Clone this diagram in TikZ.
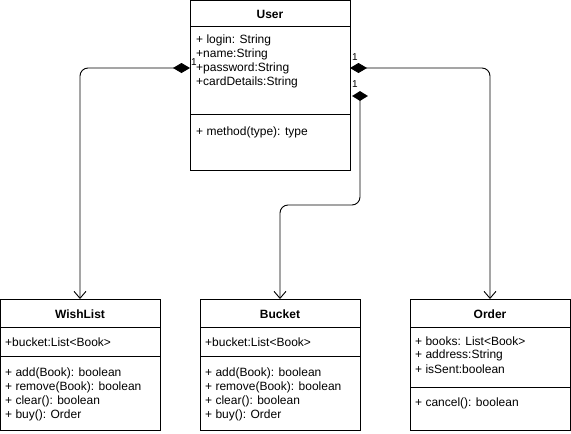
\documentclass[tikz,border=0pt]{standalone}
\usepackage{fontspec}
\setmainfont{Liberation Sans}
\usetikzlibrary{arrows.meta,shapes.geometric}
\begin{document}
\begin{tikzpicture}[x=1pt,y=-1pt,
  box/.style={draw=black,line width=0.9pt,fill=white},
  sep/.style={draw=black,line width=0.9pt},
  title/.style={font=\fontsize{12}{14}\selectfont\bfseries,inner sep=0pt},
  item/.style={font=\fontsize{12}{14}\selectfont,anchor=west,inner sep=0pt},
  mult/.style={font=\fontsize{10}{12}\selectfont,inner sep=0pt},
  conn/.style={draw=black,line width=0.9pt,rounded corners=8pt},
  comp/.style={{Diamond[length=17pt,width=10pt]}-{Straight Barb[length=7pt,width=12pt,line width=0.9pt]}},
  tipend/.style={-{Straight Barb[length=7pt,width=12pt,line width=0.9pt]}},
  dia/.style={diamond,fill=black,inner sep=0pt,minimum width=16pt,minimum height=10pt}
]
\useasboundingbox (0,0) rectangle (571,434);
\fill[white] (0,0) rectangle (571,434);

% User
\draw[box] (190,0.5) rectangle (350,170);
\draw[sep] (190,26) -- (350,26);
\draw[sep] (190,114) -- (350,114);
\node[title] (usert) at (270,14) {User};
\node[item] (u1) at (196,40) {+ login: String};
\node[item] (u2) at (196,54) {+name:String};
\node[item] (u3) at (196,68) {+password:String};
\node[item] (u4) at (196,82) {+cardDetails:String};
\node[item] (u5) at (196,132) {+ method(type): type};
\coordinate (user) at (270,85);
\coordinate (uL) at (190,68);
\coordinate (uR) at (350,68);

% WishList
\draw[box] (0.5,299) rectangle (160,430);
\draw[sep] (0.5,327) -- (160,327);
\draw[sep] (0.5,356) -- (160,356);
\node[title] (wt) at (80,314) {WishList};
\node[item] (w1) at (5,342) {+bucket:List<Book>};
\node[item] (w2) at (5,373) {+ add(Book): boolean};
\node[item] (w3) at (5,387) {+ remove(Book): boolean};
\node[item] (w4) at (5,401) {+ clear(): boolean};
\node[item] (w5) at (5,415) {+ buy(): Order};
\coordinate (wN) at (80,299);

% Bucket
\draw[box] (200,299) rectangle (360,430);
\draw[sep] (200,327) -- (360,327);
\draw[sep] (200,356) -- (360,356);
\node[title] (bt) at (280,314) {Bucket};
\node[item] (b1) at (205,342) {+bucket:List<Book>};
\node[item] (b2) at (205,373) {+ add(Book): boolean};
\node[item] (b3) at (205,387) {+ remove(Book): boolean};
\node[item] (b4) at (205,401) {+ clear(): boolean};
\node[item] (b5) at (205,415) {+ buy(): Order};
\coordinate (bN) at (280,299);

% Order
\draw[box] (410,299) rectangle (570,430);
\draw[sep] (410,327) -- (570,327);
\draw[sep] (410,387) -- (570,387);
\node[title] (ot) at (490,314) {Order};
\node[item] (o1) at (415,341) {+ books: List<Book>};
\node[item] (o2) at (415,355) {+ address:String};
\node[item] (o3) at (415,369) {+ isSent:boolean};
\node[item] (o4) at (415,403) {+ cancel(): boolean};
\coordinate (oN) at (490,299);

% connectors
\draw[conn,comp] (uL) -| (wN);
\draw[conn,comp] (uR) -| (oN);
\node[dia] (d3) at (360,96) {};
\coordinate (bend) at (360,205);
\draw[conn,tipend] (d3.center) -- (bend) -| (bN);

% multiplicities
\node[mult] (m1) at (194,62) {1};
\node[mult] (m2) at (355,57) {1};
\node[mult] (m3) at (355,84) {1};
\end{tikzpicture}
\end{document}
